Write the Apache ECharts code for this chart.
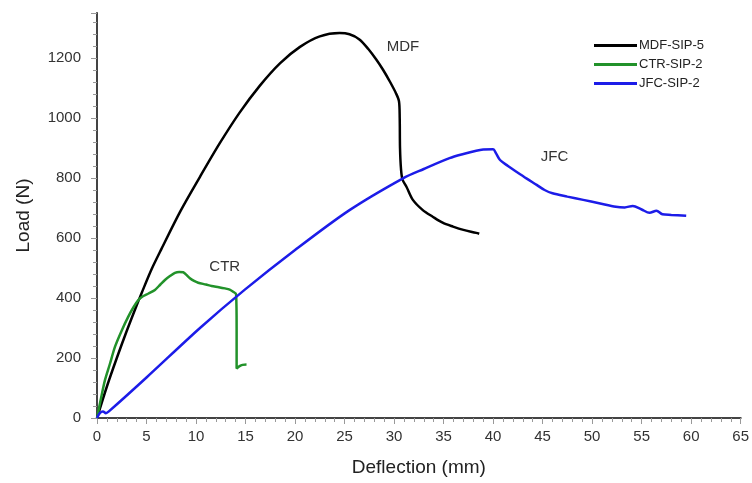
<!DOCTYPE html>
<html>
<head>
<meta charset="utf-8">
<script src="https://cdn.jsdelivr.net/npm/echarts@6/dist/echarts.min.js"></script>
<style>
html,body{margin:0;padding:0;background:#fff;}
#chart{width:752px;height:483px;}
</style>
</head>
<body>
<div id="chart"></div>
<script>
// ---- data ----
var seriesNames = ['MDF-SIP-5', 'CTR-SIP-2', 'JFC-SIP-2'];

var mdfX = [0, 1, 2, 3, 4, 4.5, 5.5, 6.5, 8.4, 10.4, 12.4, 14.4, 16.45, 18.5, 20.5, 22.5, 24.5, 25.5, 26.5, 27.4, 28.2, 28.9, 29.6, 30.2, 30.5, 30.57, 30.6, 30.7, 30.85, 31.25, 31.9, 32.9, 33.9, 34.9, 35.95, 37, 38.3, 38.6];
var mdfY = [0, 105, 200, 290, 375, 416, 495, 563, 688, 804, 916, 1018, 1108, 1183, 1237, 1272, 1283, 1279, 1262, 1230, 1195, 1160, 1120, 1082, 1055, 1000, 900, 830, 795, 771, 727, 693, 671, 651, 638, 627, 617, 614];

var ctrX = [0, 0.4, 0.81, 1.3, 1.82, 2.5, 3.16, 3.7, 4.17, 4.6, 5.2, 5.85, 6.4, 6.86, 7.4, 7.87, 8.3, 8.71, 9.0, 9.38, 9.8, 10.22, 11.0, 11.57, 12.3, 12.92, 13.4, 13.75, 14.05, 14.1, 14.1, 14.4, 14.7, 15.1];
var ctrY = [0, 65, 127, 180, 238, 292, 338, 370, 393, 405, 415, 427, 445, 460, 474, 484, 487, 486, 478, 466, 457, 451, 445, 440, 436, 432, 428, 421, 412, 300, 165, 173, 177, 178];

var jfcX = [0, 0.3, 0.6, 0.9, 1.2, 5, 10.4, 14.9, 20, 25.5, 30.9, 33, 35.6, 37, 38.3, 39, 40, 40.3, 40.7, 41.5, 42.35, 43.4, 44.4, 45.2, 46, 47.5, 49.1, 50.7, 52.4, 53.3, 54.1, 55, 55.8, 56.5, 57.1, 58, 59.5];
var jfcY = [0, 17, 22, 16, 22, 135, 300, 427, 560, 693, 799, 830, 866, 880, 891, 895, 896, 882, 860, 840, 821, 798, 777, 760, 749, 738, 727, 716, 704, 702, 707, 695, 684, 691, 679, 677, 674];

var annoText = ['MDF', 'CTR', 'JFC'];
var annoX = [30.9, 12.9, 46.2];
var annoY = [1237, 503, 870];

var xTicks = [0, 5, 10, 15, 20, 25, 30, 35, 40, 45, 50, 55, 60, 65];
var yTicks = [0, 200, 400, 600, 800, 1000, 1200];

// ---- build ----
function pairs(xs, ys) { return xs.map(function (x, i) { return [x, ys[i]]; }); }
var colors = ['#000000', '#22922a', '#1c1ce8'];
var datas = [pairs(mdfX, mdfY), pairs(ctrX, ctrY), pairs(jfcX, jfcY)];
var FONT = '"Liberation Sans", Arial, sans-serif';

var series = seriesNames.map(function (n, i) {
  return {
    name: n, type: 'line', data: datas[i], showSymbol: false, symbol: 'none',
    smooth: 0.3, lineStyle: { color: colors[i], width: 2.5 }, itemStyle: { color: colors[i] },
    animation: false,
    markPoint: {
      symbol: 'circle', symbolSize: 0,
      label: { show: true, formatter: annoText[i], color: '#333', fontSize: 15, fontFamily: FONT, position: 'inside' },
      data: [{ coord: [annoX[i], annoY[i]], value: annoText[i] }]
    }
  };
});

var chart = echarts.init(document.getElementById('chart'), null, { renderer: 'canvas' });
chart.setOption({
  backgroundColor: '#fff',
  animation: false,
  textStyle: { fontFamily: FONT },
  grid: { left: 97, right: 11, top: 13, bottom: 65 },
  legend: {
    orient: 'vertical', left: 589, top: 34, itemWidth: 43, itemHeight: 3, itemGap: 6,
    icon: 'rect', data: seriesNames,
    textStyle: { fontSize: 13, color: '#222', fontFamily: FONT, padding: [0, 0, 0, -3] }
  },
  xAxis: [{
    type: 'value', min: xTicks[0], max: xTicks[xTicks.length - 1], interval: 5,
    name: 'Deflection (mm)', nameLocation: 'middle', nameGap: 40,
    nameTextStyle: { fontSize: 19, color: '#222', fontFamily: FONT },
    axisLine: { show: true, lineStyle: { color: '#999', width: 1.5 } },
    axisTick: { show: true, length: 6, lineStyle: { color: '#999' } },
    minorTick: { show: true, splitNumber: 5, length: 4, lineStyle: { color: '#999' } },
    axisLabel: { fontSize: 15, color: '#333', margin: 11, fontFamily: FONT },
    splitLine: { show: false }
  }, {
    type: 'value', position: 'top', min: 0, max: 65,
    axisLine: { show: true, lineStyle: { color: '#444', width: 2 } },
    axisTick: { show: false }, axisLabel: { show: false }, splitLine: { show: false }
  }],
  yAxis: [{
    type: 'value', min: yTicks[0], max: 1350, interval: 200,
    name: 'Load (N)', nameLocation: 'middle', nameGap: 64,
    nameTextStyle: { fontSize: 19, color: '#222', fontFamily: FONT },
    axisLine: { show: true, lineStyle: { color: '#999', width: 1.5 } },
    axisTick: { show: true, length: 6, lineStyle: { color: '#999' } },
    minorTick: { show: true, splitNumber: 5, length: 4, lineStyle: { color: '#999' } },
    axisLabel: { fontSize: 15, color: '#333', margin: 16, fontFamily: FONT, showMaxLabel: false,
      formatter: function (v) { return yTicks.indexOf(v) >= 0 ? String(v) : ''; } },
    splitLine: { show: false }
  }, {
    type: 'value', position: 'right', min: 0, max: 1350,
    axisLine: { show: true, lineStyle: { color: '#444', width: 2 } },
    axisTick: { show: false }, axisLabel: { show: false }, splitLine: { show: false }
  }],
  series: series
});
</script>
</body>
</html>
